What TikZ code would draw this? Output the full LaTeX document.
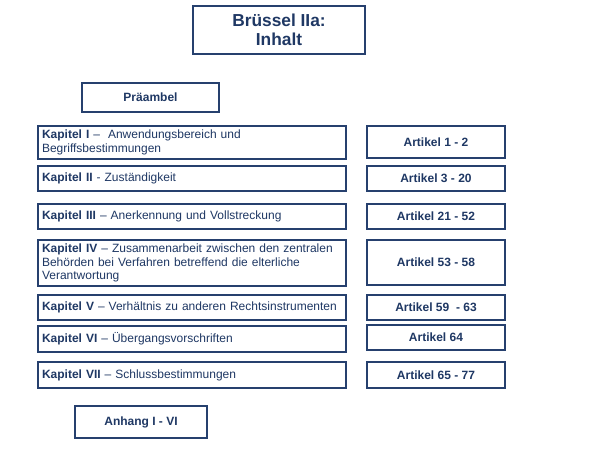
\documentclass[tikz,border=0pt]{standalone}
\usepackage{fontspec}
\setmainfont{Liberation Sans}
\usepackage{tikz}
\definecolor{boxblue}{RGB}{38,64,110}
\definecolor{textblue}{RGB}{31,56,100}
\tikzset{
  box/.style={draw=boxblue, line width=1.5pt, fill=white, text=textblue, inner sep=3pt, anchor=north west, font=\fontsize{9}{10}\selectfont},
  chap/.style={box, minimum width=231pt, text width=225pt, align=left},
  art/.style={box, minimum width=103.5pt, align=center, font=\bfseries\fontsize{9}{10}\selectfont},
}
\begin{document}
\begin{tikzpicture}[x=0.75pt,y=0.75pt,yscale=-1,xscale=1]
\useasboundingbox (0,0) rectangle (600,450);

% Title
\draw (192,5) node [box, minimum width=129pt, minimum height=36pt, align=center, font=\bfseries\fontsize{13}{14.5}\selectfont] (title) {Brüssel IIa:\\Inhalt};
% Preamble and annex
\draw (81,82) node [art, minimum width=102.75pt, minimum height=21.75pt] (praeambel) {Präambel};
\draw (74,405) node [art, minimum width=99pt, minimum height=24pt] (anhang) {Anhang I - VI};

% Chapters
\draw (37,125) node [chap, minimum height=24pt] (kap1) {\textbf{Kapitel I} -- \ Anwendungsbereich und\\Begriffsbestimmungen};
\draw (37,165) node [chap, minimum height=18.75pt] (kap2) {\textbf{Kapitel II} - Zuständigkeit};
\draw (37,203) node [chap, minimum height=18.75pt] (kap3) {\textbf{Kapitel III} -- Anerkennung und Vollstreckung};
\draw (37,239) node [chap, minimum height=33.75pt] (kap4) {\textbf{Kapitel IV} -- Zusammenarbeit zwischen den zentralen\\Behörden bei Verfahren betreffend die elterliche\\Verantwortung};
\draw (37,294) node [chap, minimum height=18.75pt] (kap5) {\textbf{Kapitel V} -- Verhältnis zu anderen Rechtsinstrumenten};
\draw (37,325) node [chap, minimum height=19.5pt] (kap6) {\textbf{Kapitel VI} -- Übergangsvorschriften};
\draw (37,361) node [chap, minimum height=19.5pt] (kap7) {\textbf{Kapitel VII} -- Schlussbestimmungen};

% Articles
\draw (366,125) node [art, minimum height=24pt] (art1) {Artikel 1 - 2};
\draw (366,165) node [art, minimum height=18.75pt] (art2) {Artikel 3 - 20};
\draw (366,203) node [art, minimum height=18.75pt] (art3) {Artikel 21 - 52};
\draw (366,239) node [art, minimum height=33.75pt] (art4) {Artikel 53 - 58};
\draw (366,294) node [art, minimum height=18.75pt] (art5) {Artikel 59 \ - 63};
\draw (366,324) node [art, minimum height=18.75pt] (art6) {Artikel 64};
\draw (366,361) node [art, minimum height=19.5pt] (art7) {Artikel 65 - 77};

\end{tikzpicture}
\end{document}
